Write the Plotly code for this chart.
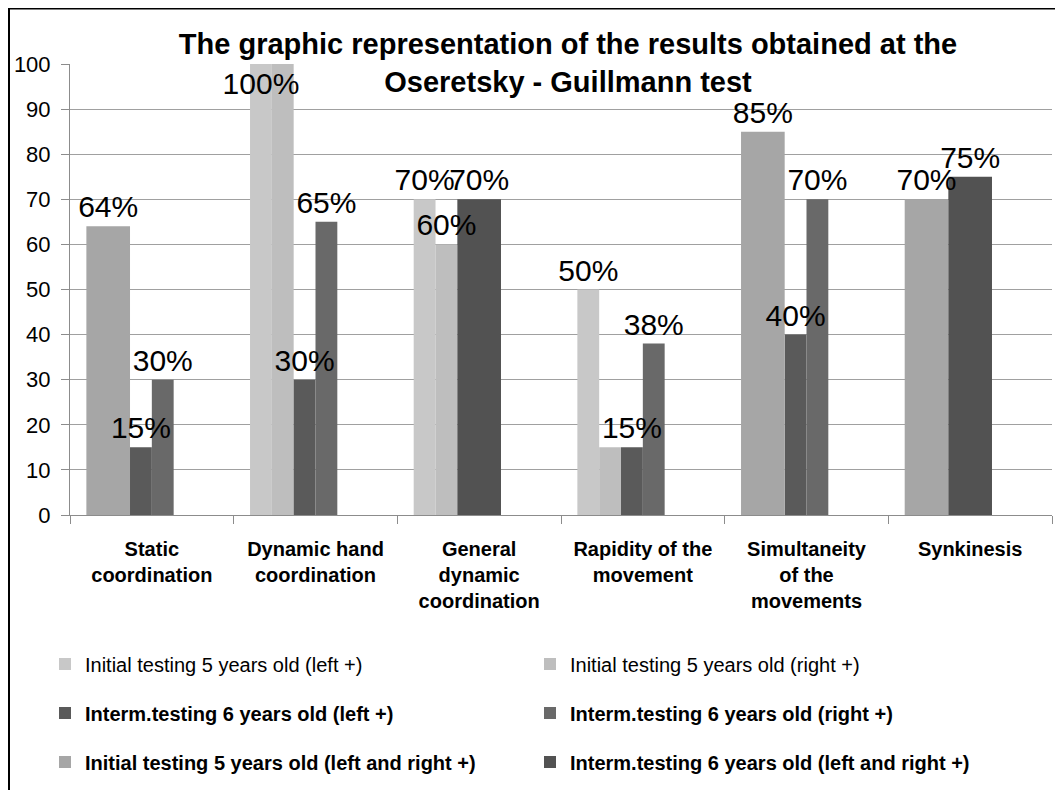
import plotly.graph_objects as go

# ---------------- data ----------------
categories = [
    "Static<br>coordination",
    "Dynamic hand<br>coordination",
    "General<br>dynamic<br>coordination",
    "Rapidity of the<br>movement",
    "Simultaneity<br>of the<br>movements",
    "Synkinesis",
]

init_left = [None, 100, 70, 50, None, None]      # Initial testing 5 years old (left +)
init_right = [None, 100, 60, 15, None, None]     # Initial testing 5 years old (right +)
interm_left = [15, 30, None, 15, 40, None]       # Interm.testing 6 years old (left +)
interm_right = [30, 65, None, 38, 70, None]      # Interm.testing 6 years old (right +)
init_lr = [64, None, None, None, 85, 70]         # Initial testing 5 years old (left and right +)
interm_lr = [None, None, 70, None, None, 75]     # Interm.testing 6 years old (left and right +)

# data labels that are not displayed in the original (duplicates)
init_right_show = [True, False, True, False, True, True]

names = [
    "Initial testing 5 years old (left +)",
    "Initial testing 5 years old (right +)",
    "Interm.testing 6 years old (left +)",
    "Interm.testing 6 years old (right +)",
    "Initial testing 5 years old (left and right +)",
    "Interm.testing 6 years old (left and right +)",
]

# ---------------- geometry / style ----------------
OFF = 8                                     # page body margin
W, H = 1063 - OFF, 790 - OFF
PL, PR, PT, PB = 70 - OFF, 1052 - OFF, 64 - OFF, 515 - OFF   # plot area (figure px)
FONT = "Arial, Liberation Sans, sans-serif"

n_slots = 6
slot = 1.0 / (n_slots + 1.5)               # Excel gap width 150 %
start = -0.5 + 0.75 * slot


def px_to_paper_x(px):
    return (px - PL) / (PR - PL)


def px_to_paper_y(py):
    return (PB - py) / (PB - PT)


def labels(vals, show=None):
    out = []
    for i, v in enumerate(vals):
        if v is None or (show is not None and not show[i]):
            out.append("")
        else:
            out.append(f"{v}%")
    return out


def positions(vals):
    return ["inside" if (v is not None and v >= 100) else "outside" for v in vals]


specs = [
    (names[0], init_left, "#C8C8C8", 0, 1, "legend", None),
    (names[1], init_right, "#BEBEBE", 1, 1, "legend", init_right_show),
    (names[2], interm_left, "#5A5A5A", 2, 1, "legend2", None),
    (names[3], interm_right, "#696969", 3, 1, "legend2", None),
    (names[4], init_lr, "#A6A6A6", 0, 2, "legend3", None),
    (names[5], interm_lr, "#525252", 2, 2, "legend3", None),
]

lbl_font = dict(family=FONT, size=30, color="black")

fig = go.Figure()
# filled bars
for name, vals, color, s, span, leg, show in specs:
    fig.add_trace(go.Bar(
        name=name,
        x=categories,
        y=vals,
        offset=start + s * slot,
        width=span * slot,
        marker=dict(color=color, line=dict(width=0)),
        legend=leg,
        hoverinfo="skip",
    ))
# data labels, drawn on top of every bar
for name, vals, color, s, span, leg, show in specs:
    fig.add_trace(go.Bar(
        name=name,
        x=categories,
        y=vals,
        offset=start + s * slot,
        width=span * slot,
        marker=dict(color="rgba(0,0,0,0)", line=dict(width=0)),
        text=labels(vals, show),
        textposition=positions(vals),
        insidetextanchor="end",
        textangle=0,
        constraintext="none",
        cliponaxis=False,
        textfont=lbl_font,
        insidetextfont=lbl_font,
        outsidetextfont=lbl_font,
        showlegend=False,
        hoverinfo="skip",
    ))

legend_common = dict(
    orientation="h",
    xref="container", yref="container",
    xanchor="left", yanchor="middle",
    entrywidth=440, entrywidthmode="pixels",
    bgcolor="rgba(0,0,0,0)",
    itemclick=False, itemdoubleclick=False,
)
LEG_X = 37 / W

fig.update_layout(
    width=W, height=H,
    margin=dict(l=PL, r=W - PR, t=PT, b=H - PB, autoexpand=False),
    paper_bgcolor="white", plot_bgcolor="white",
    barmode="overlay",
    font=dict(family=FONT, color="black"),
    title=dict(
        text="<b>The graphic representation of the results obtained at the<br>Oseretsky - Guillmann test</b>",
        font=dict(family=FONT, size=29, color="black"),
        x=(568 - OFF) / W, xanchor="center", xref="container",
        y=1 - 46 / H, yanchor="top", yref="container",
    ),
    legend=dict(**legend_common, x=LEG_X, y=1 - (664 - OFF) / H,
                font=dict(family=FONT, size=20, color="black")),
    legend2=dict(**legend_common, x=LEG_X, y=1 - (713 - OFF) / H,
                 font=dict(family=FONT, size=20, color="black", weight="bold")),
    legend3=dict(**legend_common, x=LEG_X, y=1 - (762 - OFF) / H,
                 font=dict(family=FONT, size=20, color="black", weight="bold")),
    xaxis=dict(
        type="category",
        tickson="boundaries",
        ticks="outside", ticklen=8, tickcolor="#8C8C8C", tickwidth=1,
        showline=True, linecolor="#8C8C8C", linewidth=1,
        showgrid=False,
        tickfont=dict(family=FONT, size=20, color="black", weight="bold"),
        ticklabelstandoff=16,
        range=[-0.5, len(categories) - 0.5],
        fixedrange=True,
    ),
    yaxis=dict(
        range=[0, 100], dtick=10, tick0=0,
        ticks="outside", ticklen=8, tickcolor="#8C8C8C", tickwidth=1,
        showline=True, linecolor="#8C8C8C", linewidth=1,
        showgrid=True, gridcolor="#A0A0A0", gridwidth=1,
        zeroline=False,
        tickfont=dict(family=FONT, size=22, color="black"),
        ticklabelstandoff=6,
        fixedrange=True,
    ),
    shapes=[dict(
        type="rect", xref="paper", yref="paper",
        x0=px_to_paper_x(1), x1=px_to_paper_x(W + 20),
        y0=px_to_paper_y(H + 20), y1=px_to_paper_y(0.5),
        line=dict(color="black", width=2),
        fillcolor="rgba(0,0,0,0)",
        layer="above",
    )],
)

fig.write_html("out.html", config={"displayModeBar": False})
